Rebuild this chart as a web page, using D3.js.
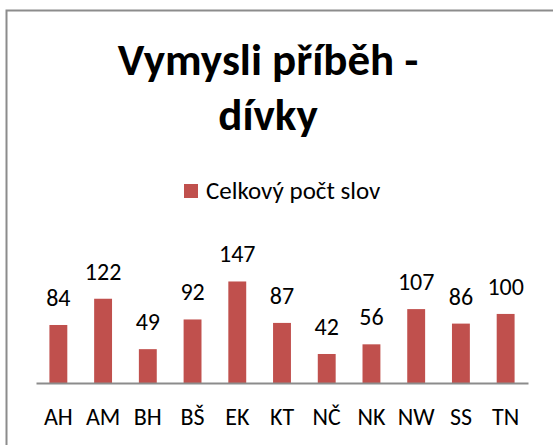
<!DOCTYPE html>
<html>
<head>
<meta charset="utf-8">
<script src="https://cdn.jsdelivr.net/npm/d3@7"></script>
<style>
    body { margin: 0; background: #fff; }
    text { font-family: Carlito, Calibri, Lato, sans-serif; fill: #000; }
</style>
</head>
<body>
<div id="chart"></div>
<script>
    var names = ['AH', 'AM', 'BH', 'BŠ', 'EK', 'KT', 'NČ', 'NK', 'NW', 'SS', 'TN'];
    var words = [84, 122, 49, 92, 147, 87, 42, 56, 107, 86, 100];
    var series_name = 'Celkový počt slov';
    var title_lines = ['Vymysli příběh -', 'dívky'];

    var width = 553, height = 445;
    var bar_color = '#C0504D';

    var svg = d3.select('#chart').append('svg')
        .attr('width', width)
        .attr('height', height);

    // chart frame (cut off at right and bottom)
    svg.append('rect')
        .attr('x', 6.5).attr('y', 10.5)
        .attr('width', 560).attr('height', 450)
        .attr('fill', '#fff')
        .attr('stroke', '#8c8c8c')
        .attr('stroke-width', 2);

    var x = d3.scaleBand()
        .domain(names)
        .range([36, 528])
        .paddingInner(0.6)
        .paddingOuter(0.3);

    var y = d3.scaleLinear()
        .domain([0, 160])
        .range([383, 383 - 110.5]);

    svg.selectAll('text.title')
        .data(title_lines)
        .enter().append('text')
        .attr('class', 'title')
        .attr('x', 268)
        .attr('y', function(d, i){ return 75 + i * 55; })
        .attr('text-anchor', 'middle')
        .attr('font-size', 45)
        .attr('font-weight', 'bold')
        .text(function(d){ return d; });

    // legend
    svg.append('rect')
        .attr('x', 184).attr('y', 184)
        .attr('width', 14).attr('height', 14)
        .attr('fill', bar_color);
    svg.append('text')
        .attr('x', 206).attr('y', 199)
        .attr('font-size', 25)
        .text(series_name);

    svg.selectAll('rect.bar')
        .data(words)
        .enter().append('rect')
        .attr('class', 'bar')
        .attr('x', function(d, i){ return x(names[i]); })
        .attr('width', x.bandwidth())
        .attr('y', function(d){ return y(d); })
        .attr('height', function(d){ return y(0) - y(d); })
        .attr('fill', bar_color);

    svg.selectAll('text.label')
        .data(words)
        .enter().append('text')
        .attr('class', 'label')
        .attr('x', function(d, i){ return x(names[i]) + x.bandwidth() / 2; })
        .attr('y', function(d){ return y(d) - 19; })
        .attr('text-anchor', 'middle')
        .attr('font-size', 24)
        .text(function(d){ return d; });

    var axis = svg.append('g')
        .attr('transform', 'translate(0,' + y(0) + ')')
        .call(d3.axisBottom(x).tickSize(0).tickPadding(0));
    axis.attr('font-size', 24)
        .attr('font-family', null);
    axis.select('.domain')
        .attr('stroke', '#8c8c8c')
        .attr('stroke-width', 2);
    axis.selectAll('text')
        .attr('dy', null)
        .attr('y', 42);
</script>
</body>
</html>
